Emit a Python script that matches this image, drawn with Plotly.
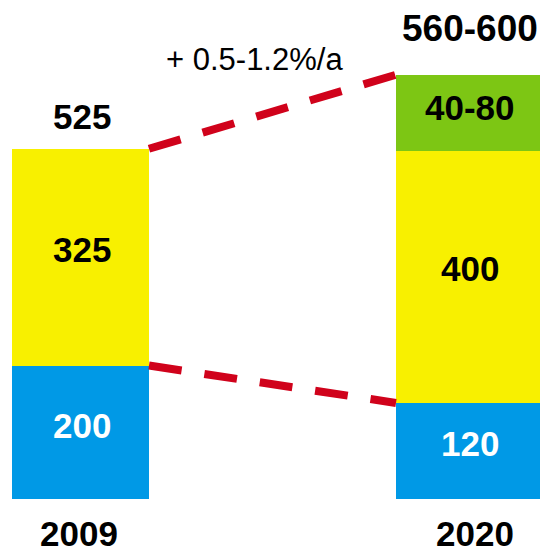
import plotly.graph_objects as go

# ---- data -------------------------------------------------------------
years = ["2009", "2020"]
x_pos = [0, 1]
# values printed on the chart
blue_labels = ["200", "120"]
yellow_labels = ["325", "400"]
green_labels = ["40-80"]
total_labels = ["525", "560-600"]
growth_label = "+ 0.5-1.2%/a"
# segment heights as drawn in the original graphic (not drawn to scale)
blue_heights = [200, 144]
yellow_heights = [325, 378]
green_heights = [114]          # only 2020 has a green segment

# ---- style ------------------------------------------------------------
BLUE = "#0099E6"
YELLOW = "#F8F000"
GREEN = "#7DC614"
RED = "#D0021B"
FONT = "Liberation Sans"
bar_widths = [0.3535, 0.3716]

fig = go.Figure()
fig.add_bar(x=x_pos, y=blue_heights, width=bar_widths, marker=dict(color=BLUE, line=dict(width=0)),
            hoverinfo="skip")
fig.add_bar(x=x_pos, y=yellow_heights, width=bar_widths, marker=dict(color=YELLOW, line=dict(width=0)),
            hoverinfo="skip")
fig.add_bar(x=x_pos[1:], y=green_heights, width=bar_widths[1:], marker=dict(color=GREEN, line=dict(width=0)),
            hoverinfo="skip")

blue_tops = blue_heights
totals = [blue_heights[0] + yellow_heights[0], blue_heights[1] + yellow_heights[1] + green_heights[0]]
x_right0 = x_pos[0] + bar_widths[0] / 2
x_left1 = x_pos[1] - bar_widths[1] / 2

for ys in (totals, blue_tops):
    fig.add_scatter(x=[x_right0, x_left1], y=ys, mode="lines",
                    line=dict(color=RED, width=8, dash="33px,23px"),
                    hoverinfo="skip", showlegend=False)

ann = []
def label(x, y, text, color="black", size=35, yshift=0, bold=True, xshift=2, yref="y", yanchor="middle"):
    ann.append(dict(x=x, y=y, text=text, showarrow=False, xanchor="center", yanchor=yanchor,
                    yshift=yshift, xshift=xshift, yref=yref,
                    font=dict(family=FONT, size=size, color=color, weight="bold" if bold else "normal")))

for i in range(2):
    label(x_pos[i], blue_heights[i] / 2, blue_labels[i], color="white", yshift=7)
    label(x_pos[i], blue_heights[i] + yellow_heights[i] / 2, yellow_labels[i], yshift=8)
label(x_pos[1], blue_heights[1] + yellow_heights[1] + green_heights[0] / 2, green_labels[0], yshift=5)
label(x_pos[0], totals[0], total_labels[0], yshift=32)
label(x_pos[1], totals[1], total_labels[1], size=37, yshift=46)
label((x_pos[0] + x_pos[1]) / 2 - 0.05, totals[1], growth_label, size=31, bold=False, yshift=15, xshift=0)
# category labels under the bars
label(x_pos[0], 0, years[0], size=35, yref="paper", yanchor="top", yshift=-13, xshift=-1)
label(x_pos[1], 0, years[1], size=35, yref="paper", yanchor="top", yshift=-13, xshift=7)

fig.update_layout(
    width=541, height=554,
    margin=dict(l=0, r=0, t=0, b=55),
    barmode="stack", bargap=0,
    showlegend=False,
    plot_bgcolor="white", paper_bgcolor="white",
    annotations=ann,
    xaxis=dict(range=[-0.2077, 1.1884], showticklabels=False,
               showgrid=False, zeroline=False, showline=False, ticks="", fixedrange=True),
    yaxis=dict(range=[0, 748], visible=False, showgrid=False, zeroline=False, fixedrange=True),
)

fig.write_html("out.html", config={"displayModeBar": False})
